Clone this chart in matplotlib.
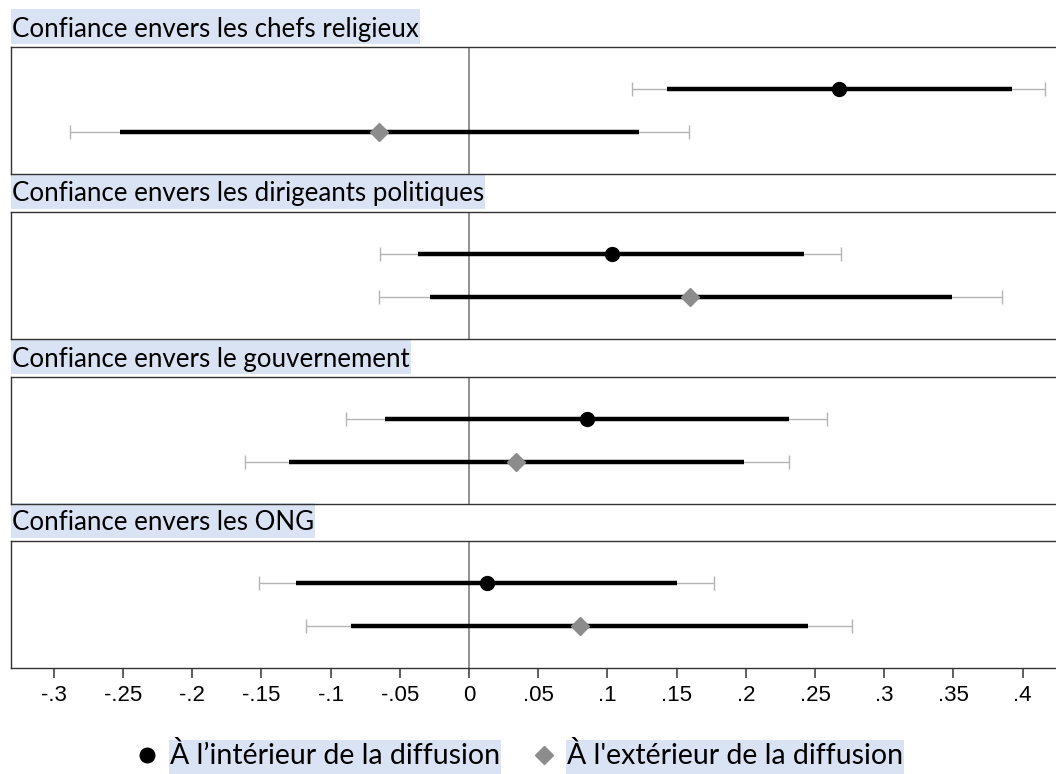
import matplotlib.pyplot as plt
from matplotlib.lines import Line2D
from matplotlib.patches import Rectangle

# titres des panneaux et séries
titres = ['Confiance envers les chefs religieux',
          'Confiance envers les dirigeants politiques',
          'Confiance envers le gouvernement',
          'Confiance envers les ONG']
series = ['À l’intérieur de la diffusion', "À l'extérieur de la diffusion"]

# à l'intérieur de la diffusion : estimation, IC 90 %, IC 95 %
est_int = [0.267, 0.103, 0.085, 0.013]
int90_bas = [0.143, -0.037, -0.061, -0.125]
int90_haut = [0.392, 0.242, 0.231, 0.150]
int95_bas = [0.118, -0.064, -0.089, -0.152]
int95_haut = [0.416, 0.269, 0.259, 0.177]

# à l'extérieur de la diffusion
est_ext = [-0.065, 0.160, 0.034, 0.080]
ext90_bas = [-0.252, -0.028, -0.130, -0.085]
ext90_haut = [0.123, 0.349, 0.199, 0.245]
ext95_bas = [-0.288, -0.065, -0.162, -0.118]
ext95_haut = [0.159, 0.385, 0.231, 0.277]

ticks = [-0.3, -0.25, -0.2, -0.15, -0.1, -0.05, 0, 0.05, 0.1, 0.15, 0.2, 0.25, 0.3, 0.35, 0.4]
tick_labels = ['-.3', '-.25', '-.2', '-.15', '-.1', '-.05', '0', '.05', '.1', '.15', '.2', '.25', '.3', '.35', '.4']

W, H = 1056, 774
surligne = '#dae3f3'
gris_marqueur = '#8c8c8c'
gris_ic = '#b4b4b4'

fig = plt.figure(figsize=(W / 100, H / 100), dpi=100)

hauts = [47, 212, 377, 541]  # haut de chaque cadre (px)
hauteur = 127
gauche = 11

textes_titres = []
for i, titre in enumerate(titres):
    haut = hauts[i]
    ax = fig.add_axes([gauche / W, (H - haut - hauteur) / H, (W - gauche + 2) / W, hauteur / H])
    ax.set_facecolor('none')

    lignes = [
        (1, est_int[i], int90_bas[i], int90_haut[i], int95_bas[i], int95_haut[i], 'o', 'black', 10),
        (2, est_ext[i], ext90_bas[i], ext90_haut[i], ext95_bas[i], ext95_haut[i], 'D', gris_marqueur, 9),
    ]
    ax.axvline(0, color='#7f7f7f', lw=1.2, zorder=1)
    for y, est, b90, h90, b95, h95, marq, coul, ms in lignes:
        ax.errorbar(est, y, xerr=[[est - b95], [h95 - est]], fmt='none',
                    ecolor=gris_ic, elinewidth=1.0, capsize=5, capthick=1.0, zorder=2)
        ax.hlines(y, b90, h90, color='black', lw=3.2, zorder=3)
        ax.plot(est, y, marker=marq, color=coul, markersize=ms, ls='none', zorder=4)

    ax.set_ylim(3, 0)
    ax.set_xlim((gauche - 469) / 1384, (W + 2 - 469) / 1384)
    ax.set_yticks([])
    for s in ax.spines.values():
        s.set_color('#333333')
        s.set_linewidth(1.0)
    if i < 3:
        ax.set_xticks([])
    else:
        ax.set_xticks(ticks)
        ax.set_xticklabels(tick_labels, fontfamily='Liberation Sans', fontsize=16)
        ax.tick_params(axis='x', length=7, width=1.1, color='#333333', pad=5)

    t = fig.text(12 / W, (H - (haut - 10.5)) / H, titre, va='baseline', ha='left',
                 fontfamily='Lato', fontsize=18.6, zorder=2)
    textes_titres.append((t, haut))

# légende
poignees = [Line2D([], [], marker='o', color='black', ls='none', markersize=10.5),
            Line2D([], [], marker='D', color=gris_marqueur, ls='none', markersize=9.5)]
leg = fig.legend(poignees, series, loc='center', bbox_to_anchor=(518 / W, (H - 756) / H),
                 ncol=2, frameon=False, handlelength=1.0, handletextpad=0.3,
                 columnspacing=1.05, borderpad=0, prop={'family': 'Lato', 'size': 20.5})

# surlignage bleu clair derrière les titres et la légende
fig.canvas.draw()
rend = fig.canvas.get_renderer()
for t, haut in textes_titres:
    bb = t.get_window_extent(rend)
    fig.add_artist(Rectangle((gauche / W, (H - (haut - 3)) / H), (bb.x1 + 1 - gauche) / W, 35 / H,
                             transform=fig.transFigure, fc=surligne, ec='none', zorder=-1))
for t in leg.get_texts():
    bb = t.get_window_extent(rend)
    fig.add_artist(Rectangle(((bb.x0 - 1) / W, 0), (bb.x1 - bb.x0 + 2) / W, (H - 740) / H,
                             transform=fig.transFigure, fc=surligne, ec='none', zorder=-1))

fig.savefig('out.png', dpi=100)
